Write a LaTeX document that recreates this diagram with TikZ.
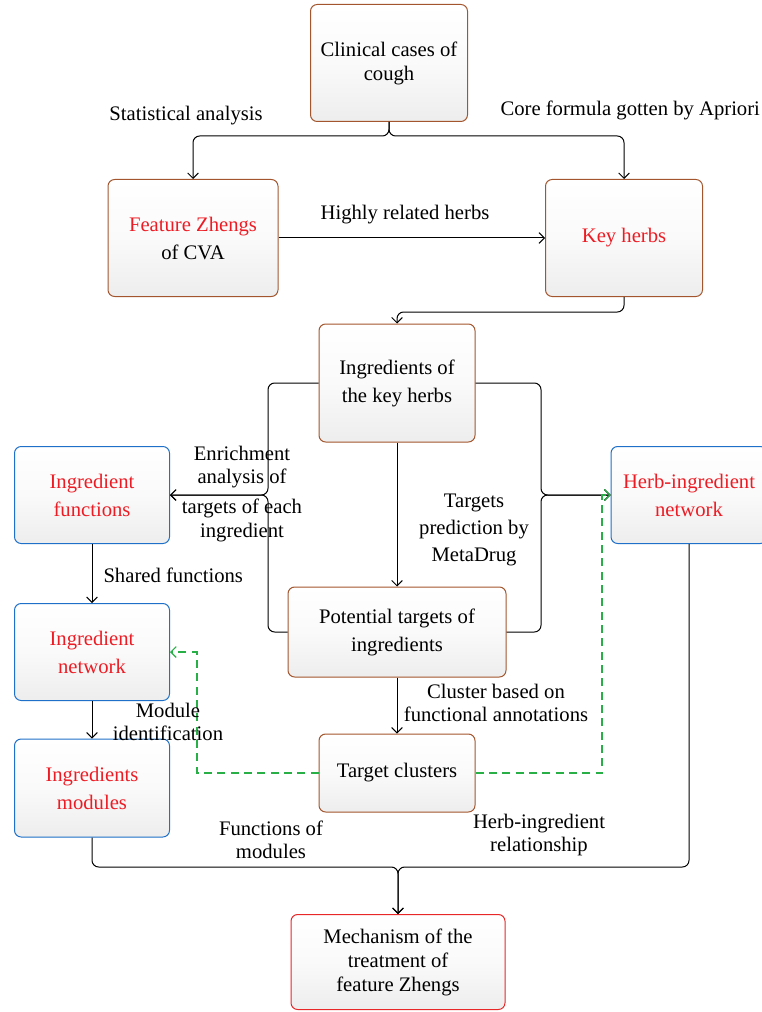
\documentclass[tikz,border=0pt]{standalone}
\usepackage{fontspec}
\setmainfont{Liberation Serif}
\usetikzlibrary{arrows.meta}
\definecolor{hotred}{RGB}{237,28,36}
\definecolor{dashgreen}{RGB}{40,175,70}

\tikzset{every picture/.style={line width=0.75pt}}
\tikzset{
  flowbox/.style={draw, rounded corners=5pt, top color=white, bottom color=black!7, middle color=black!2, align=center, inner sep=2pt, font=\fontsize{15.5}{18}\selectfont},
  brownbox/.style={flowbox, draw={rgb, 255:red, 163; green, 86; blue, 45}},
  bluebox/.style={flowbox, draw={rgb, 255:red, 30; green, 112; blue, 200}},
  redbox/.style={flowbox, draw={rgb, 255:red, 232; green, 40; blue, 40}},
  lbl/.style={inner sep=0.75pt, align=center, font=\fontsize{15.5}{17.5}\selectfont},
  conn/.style={-{Straight Barb[length=4pt,width=8pt]}, rounded corners=5pt},
  greendash/.style={-{Straight Barb[length=4pt,width=8pt]}, dash pattern=on 6pt off 4pt, draw=dashgreen, line width=0.9pt}
}

\begin{document}
\begin{tikzpicture}[x=0.75pt,y=0.75pt,yscale=-1,xscale=1]
\useasboundingbox (0,0) rectangle (762,1012);

%Shape: Boxes
\node [brownbox, minimum width=117.75pt, minimum height=87.75pt] (clin) at (389,63) {Clinical cases of\\cough};
\node [brownbox, minimum width=127.5pt, minimum height=87.75pt] (feat) at (193,238) {\textcolor{hotred}{Feature Zhengs}\\[3pt]of CVA};
\node [brownbox, minimum width=117.75pt, minimum height=87.75pt] (key) at (624,238) {\textcolor{hotred}{Key herbs}};
\node [brownbox, minimum width=117pt, minimum height=88.5pt] (ingr) at (397,383) {Ingredients of\\[3pt]the key herbs};
\node [bluebox, minimum width=116.25pt, minimum height=72.75pt] (ifun) at (92,495) {\textcolor{hotred}{Ingredient}\\[3pt]\textcolor{hotred}{functions}};
\node [bluebox, minimum width=117pt, minimum height=72.75pt] (hnet) at (689,495) {\textcolor{hotred}{Herb-ingredient}\\[3pt]\textcolor{hotred}{network}};
\node [brownbox, minimum width=163.5pt, minimum height=67.5pt] (pot) at (397,632) {Potential targets of\\[3pt]ingredients};
\node [bluebox, minimum width=116.25pt, minimum height=72.75pt] (inet) at (92,652) {\textcolor{hotred}{Ingredient}\\[3pt]\textcolor{hotred}{network}};
\node [bluebox, minimum width=116.25pt, minimum height=73.5pt] (imod) at (92,788) {\textcolor{hotred}{Ingredients}\\[3pt]\textcolor{hotred}{modules}};
\node [brownbox, minimum width=117pt, minimum height=58.5pt] (tclu) at (397,773) {Target clusters};
\node [redbox, minimum width=160.5pt, minimum height=71.25pt] (mech) at (398,962) {Mechanism of the\\treatment of\\feature Zhengs};

%Junctions
\coordinate (split) at (389,136);
\coordinate (jl) at (268,495);
\coordinate (jr) at (541,495);
\coordinate (gl) at (197,652);
\coordinate (gr) at (602,495);
\coordinate (jb) at (398,867);

%Straight Lines
\draw [conn] (clin.south) -- (split) -| (feat.north);
\draw [conn] (clin.south) -- (split) -| (key.north);
\draw [conn] (feat.east) -- (key.west);
\draw [conn] (key.south) -- ++(0,15) -| (ingr.north);
\draw [conn] (ingr.west) -| (jl) -- (ifun.east);
\draw [conn] (pot.west) -| (jl) -- (ifun.east);
\draw [conn] (ingr.east) -| (jr) -- (hnet.west);
\draw [conn] (pot.east) -| (jr) -- (hnet.west);
\draw [conn] (ingr.south) -- (pot.north);
\draw [conn] (ifun.south) -- (inet.north);
\draw [conn] (inet.south) -- (imod.north);
\draw [conn] (pot.south) -- (tclu.north);
\draw [conn] (imod.south) |- (jb) -- (mech.north);
\draw [conn] (hnet.south) |- (jb) -- (mech.north);
%Dashed Lines
\draw [greendash] (tclu.west) -| (gl) -- (inet.east);
\draw [greendash] (tclu.east) -| (gr) -- (hnet.west);

% Text Node
\node [lbl] (lblstat) at (186,116) {Statistical analysis};
% Text Node
\node [lbl, anchor=west] (lblcore) at (499,110) {Core formula gotten by Apriori};
% Text Node
\node [lbl] (lblhigh) at (405,215) {Highly related herbs};
% Text Node
\node [lbl] (lblenr) at (242,494) {Enrichment\\analysis of\\[5pt]targets of each\\ingredient};
% Text Node
\node [lbl] (lblpred) at (474,530) {Targets\\[3pt]prediction by\\[3pt]MetaDrug};
% Text Node
\node [lbl, anchor=west] (lblshare) at (102,575) {Shared functions};
% Text Node
\node [lbl] (lblmod) at (168,722) {Module\\identification};
% Text Node
\node [lbl] (lblclus) at (496,703) {Cluster based on\\functional annotations};
% Text Node
\node [lbl] (lblfunc) at (271,840) {Functions of\\modules};
% Text Node
\node [lbl] (lblrel) at (539,835) {Herb-ingredient\\relationship};

\end{tikzpicture}
\end{document}
